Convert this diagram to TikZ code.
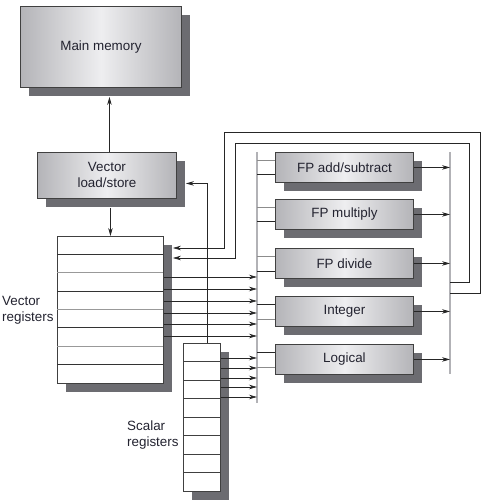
\documentclass[tikz,border=0pt]{standalone}
\usepackage{fontspec}
\setmainfont{Liberation Sans}
\usetikzlibrary{arrows.meta,shadows,calc}
\definecolor{shade}{RGB}{108,108,113}
\definecolor{boxedge}{RGB}{180,180,184}
\definecolor{boxmid}{RGB}{238,238,240}
\definecolor{busgray}{RGB}{178,178,182}
\definecolor{ink}{RGB}{35,35,48}
\tikzset{
  unit/.style={draw=black!75, line width=0.9pt, anchor=north west,
    left color=boxedge, right color=boxedge, middle color=boxmid,
    general shadow={fill=shade, shadow xshift=9pt, shadow yshift=-9pt},
    text=ink, align=center, inner sep=0pt, font=\fontsize{13.4}{16}\selectfont},
  regfile/.style={draw=black!75, line width=0.9pt, anchor=north west, fill=white,
    general shadow={fill=shade, shadow xshift=9pt, shadow yshift=-9pt}, inner sep=0pt},
  arr/.style={-{Stealth[length=8pt,width=4.5pt]}, line width=0.7pt, draw=black!85},
  bus/.style={line width=1.6pt, draw=busgray},
  lbl/.style={text=ink, align=left, anchor=west, inner sep=0pt,
    font=\fontsize{13.4}{16}\selectfont}
}
\begin{document}
\begin{tikzpicture}[x=1pt,y=-1pt]
  \useasboundingbox (0,0) rectangle (488,502);
  % units
  \node[unit, minimum width=161pt, minimum height=81pt] (mem) at (20,6) {Main memory};
  \node[unit, minimum width=139pt, minimum height=46pt] (vls) at (37,152) {Vector\\load/store};
  \node[unit, minimum width=138pt, minimum height=30pt] (add) at (275,152) {FP add/subtract};
  \node[unit, minimum width=138pt, minimum height=30pt] (mul) at (275,199) {FP multiply};
  \node[unit, minimum width=138pt, minimum height=30pt] (div) at (275,248) {FP divide};
  \node[unit, minimum width=138pt, minimum height=30pt] (int) at (275,296) {Integer};
  \node[unit, minimum width=138pt, minimum height=30pt] (log) at (275,344) {Logical};
  % register files
  \node[regfile, minimum width=106pt, minimum height=147pt] (vreg) at (57,236) {};
  \node[regfile, minimum width=37pt, minimum height=148pt] (sreg) at (183,343) {};
  \foreach \i in {1,...,7} {
    \pgfmathsetmacro\c{isodd(\i) ? "black!80" : "black!40"}
    \draw[draw=\c, line width=0.9pt] (57,236+18.375*\i) -- ++(106,0);
    \draw[draw=black!75, line width=0.9pt] (183,343+18.5*\i) -- ++(37,0);
  }
  \node[lbl] (vlbl) at (2,310) {Vector\\registers};
  \node[lbl] (slbl) at (127,435) {Scalar\\registers};
  % buses
  \coordinate (lbus) at (257,152);
  \coordinate (lbusend) at (257,403);
  \coordinate (rbus) at (450,152);
  \coordinate (rbusend) at (450,374);
  \draw[bus] (lbus) -- (lbusend);
  \draw[bus] (rbus) -- (rbusend);
  % memory path
  \draw[arr] ([xshift=2.5pt]vls.north) -- ([xshift=2.5pt,yshift=-9pt]vls.north |- mem.south);
  \draw[arr] ([yshift=-9pt]vls.south -| vreg.north) -- (vreg.north);
  \draw[arr] ([xshift=5.5pt]sreg.north) |- ([shift={(9,8)}]vls.east);
  % operands
  \foreach \y in {277,289,301,313,324,336}
    \draw[arr] (vreg.east |- 0,\y) -- (lbus |- 0,\y);
  \foreach \y in {358,368,378,387,397}
    \draw[arr] (sreg.east |- 0,\y) -- (lbus |- 0,\y);
  \foreach \n/\ca/\cb in {add/black!45/black!85, mul/black!45/black!85, div/black!45/black!85,
                          int/black!85/black!45, log/black!85/black!45} {
    \draw[draw=\ca, line width=0.8pt] ([yshift=-8pt]\n.north west) -- ++(-18,0);
    \draw[draw=\cb, line width=0.8pt] ([yshift=8pt]\n.south west) -- ++(-18,0);
    \draw[arr] (\n.east) -- (rbus |- \n.east);
  }
  % results back to vector registers
  \draw[arr] (rbus |- 0,293) -- (480,293) |- (224,132) |- ([xshift=9pt]vreg.east |- 0,248);
  \draw[arr] (rbus |- 0,282) -- (469,282) |- (235,143) |- ([xshift=9pt]vreg.east |- 0,258);
\end{tikzpicture}
\end{document}
